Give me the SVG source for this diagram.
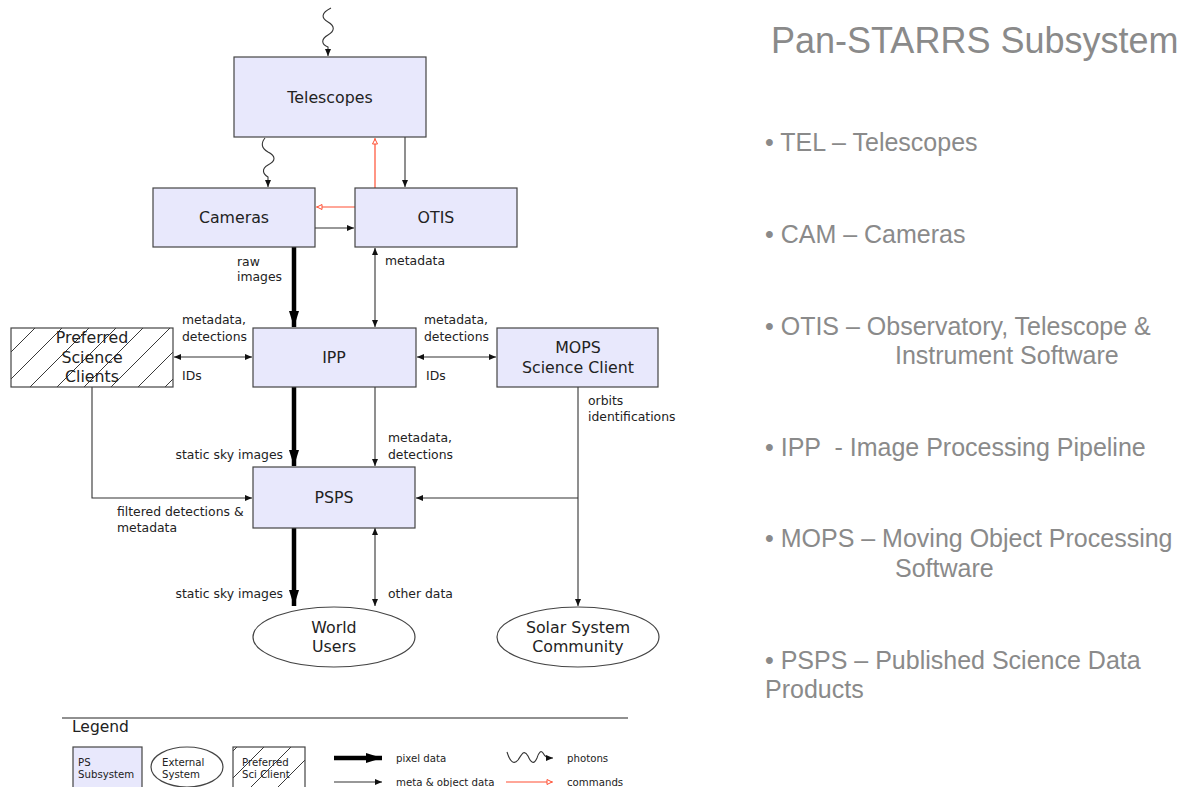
<svg xmlns="http://www.w3.org/2000/svg" width="1183" height="787" viewBox="0 0 1183 787">
<style>
.node{fill:#e8e8fc;stroke:#444;stroke-width:1.2}
.ext{fill:#fff;stroke:#444;stroke-width:1.2}
.hatch{fill:url(#hatch);stroke:#444;stroke-width:1.2}
.nl{font-family:"DejaVu Sans",sans-serif;font-size:15.8px;fill:#222;text-anchor:middle}
.lb{font-family:"DejaVu Sans",sans-serif;font-size:12.4px;fill:#222}
.lg{font-family:"DejaVu Sans",sans-serif;font-size:10.2px;fill:#222}
.thin{fill:none;stroke:#333;stroke-width:1.1}
.thick{fill:none;stroke:#000;stroke-width:4.5}
.red{fill:none;stroke:#ff4f33;stroke-width:1.2}
.rt{font-family:"Liberation Sans",Arial,sans-serif;fill:#8a8a8a}
</style>
<defs>
<pattern id="hatch" patternUnits="userSpaceOnUse" x="12" y="0" width="27" height="27">
<path d="M-2,2 L2,-2 M0,27 L27,0 M25,29 L29,25" stroke="#222" stroke-width="0.9"/>
</pattern>
<marker id="a" markerUnits="userSpaceOnUse" markerWidth="8" markerHeight="7" refX="7" refY="3.5" orient="auto-start-reverse">
<path d="M0,0.5 L7,3.5 L0,6.5 z" fill="#111"/>
</marker>
<marker id="at" markerUnits="userSpaceOnUse" markerWidth="17" markerHeight="11" refX="16" refY="5.5" orient="auto">
<path d="M0,0.5 L16,5.5 L0,10.5 z" fill="#000"/>
</marker>
<marker id="ar" markerUnits="userSpaceOnUse" markerWidth="8" markerHeight="7" refX="7" refY="3.5" orient="auto">
<path d="M1,1 L6,3.5 L1,6 z" fill="#fff" stroke="#ff4f33" stroke-width="1"/>
</marker>
</defs>

<g id="connectors">
<path class="thin" d="M331,8 C321,13 321,18 328,22 C335,26 335,31 328,35 C321,39 321,44 328,47 L328,56" marker-end="url(#a)"/>
<path class="thin" d="M265,138 C261,143 261,148 268,152 C276,156 276,161 268,165 C261,169 263,174 268,177 L268,187" marker-end="url(#a)"/>
<path class="thin" d="M405,137 L405,187" marker-end="url(#a)"/>
<path class="red" d="M375,188 L375,138" marker-end="url(#ar)"/>
<path class="red" d="M355,207 L316,207" marker-end="url(#ar)"/>
<path class="thin" d="M315,228 L354,228" marker-end="url(#a)"/>
<path class="thick" d="M294,247 L294,327" marker-end="url(#at)"/>
<path class="thin" d="M375,248 L375,327" marker-start="url(#a)" marker-end="url(#a)"/>
<path class="thin" d="M174,357 L252,357" marker-start="url(#a)" marker-end="url(#a)"/>
<path class="thin" d="M417,357 L496,357" marker-start="url(#a)" marker-end="url(#a)"/>
<path class="thick" d="M294,387 L294,466" marker-end="url(#at)"/>
<path class="thin" d="M375,387 L375,466" marker-end="url(#a)"/>
<path class="thin" d="M92,387 L92,498 L252,498" marker-end="url(#a)"/>
<path class="thin" d="M578,387 L578,606" marker-end="url(#a)"/>
<path class="thin" d="M578,498 L416,498" marker-end="url(#a)"/>
<path class="thick" d="M294,527 L294,606" marker-end="url(#at)"/>
<path class="thin" d="M375,528 L375,606" marker-start="url(#a)" marker-end="url(#a)"/>
</g>

<g id="connector-labels">
<text class="lb" x="237" y="266">raw</text>
<text class="lb" x="237" y="281">images</text>
<text class="lb" x="385" y="265">metadata</text>
<text class="lb" x="182" y="324">metadata,</text>
<text class="lb" x="182" y="341">detections</text>
<text class="lb" x="182" y="380">IDs</text>
<text class="lb" x="424" y="324">metadata,</text>
<text class="lb" x="424" y="341">detections</text>
<text class="lb" x="426" y="380">IDs</text>
<text class="lb" x="588" y="405">orbits</text>
<text class="lb" x="588" y="421">identifications</text>
<text class="lb" x="388" y="442">metadata,</text>
<text class="lb" x="388" y="459">detections</text>
<text class="lb" x="283" y="459" text-anchor="end">static sky images</text>
<text class="lb" x="117" y="516">filtered detections &amp;</text>
<text class="lb" x="117" y="532">metadata</text>
<text class="lb" x="283" y="598" text-anchor="end">static sky images</text>
<text class="lb" x="388" y="598">other data</text>
</g>

<g id="telescopes">
<rect class="node" x="234" y="57" width="192" height="80"/>
<text class="nl" x="330" y="103">Telescopes</text>
</g>
<g id="cameras">
<rect class="node" x="153" y="188" width="162" height="59"/>
<text class="nl" x="234" y="223">Cameras</text>
</g>
<g id="otis">
<rect class="node" x="355" y="188" width="162" height="59"/>
<text class="nl" x="436" y="223">OTIS</text>
</g>
<g id="psc">
<rect class="hatch" x="11" y="328" width="162" height="59"/>
<text class="nl" x="92" y="343">Preferred</text>
<text class="nl" x="92" y="363">Science</text>
<text class="nl" x="92" y="382">Clients</text>
</g>
<g id="ipp">
<rect class="node" x="253" y="328" width="163" height="59"/>
<text class="nl" x="334" y="363">IPP</text>
</g>
<g id="mops">
<rect class="node" x="497" y="328" width="161" height="59"/>
<text class="nl" x="578" y="353">MOPS</text>
<text class="nl" x="578" y="373">Science Client</text>
</g>
<g id="psps">
<rect class="node" x="253" y="467" width="162" height="61"/>
<text class="nl" x="334" y="503">PSPS</text>
</g>
<g id="world-users">
<ellipse class="ext" cx="334" cy="637" rx="81" ry="30"/>
<text class="nl" x="334" y="633">World</text>
<text class="nl" x="334" y="652">Users</text>
</g>
<g id="solar-system">
<ellipse class="ext" cx="578" cy="637" rx="81" ry="30"/>
<text class="nl" x="578" y="633">Solar System</text>
<text class="nl" x="578" y="652">Community</text>
</g>

<g id="legend">
<line x1="62" y1="718" x2="628" y2="718" stroke="#222" stroke-width="1.2"/>
<text x="72" y="732" font-family="DejaVu Sans, sans-serif" font-size="15.5" fill="#222">Legend</text>
<rect class="node" x="73" y="747" width="69" height="42"/>
<text class="lg" x="78" y="766">PS</text>
<text class="lg" x="78" y="778">Subsystem</text>
<ellipse class="ext" cx="187" cy="767" rx="36" ry="20"/>
<text class="lg" x="162" y="766">External</text>
<text class="lg" x="162" y="778">System</text>
<rect class="hatch" x="233" y="747" width="72" height="42"/>
<text class="lg" x="242" y="766">Preferred</text>
<text class="lg" x="242" y="778">Sci Client</text>
<path class="thick" d="M334,758 L382,758" marker-end="url(#at)"/>
<text class="lg" x="396" y="762">pixel data</text>
<path class="thin" d="M334,782 L382,782" marker-end="url(#a)"/>
<text class="lg" x="396" y="786">meta &amp; object data</text>
<path class="thin" d="M507,752 C510,762 514,765 518,760 C522,754 524,749 528,756 C531,763 534,765 537,758 C539,752 541,750 543,753 C545,757 547,758 551,758 L553,758" marker-end="url(#a)"/>
<text class="lg" x="567" y="762">photons</text>
<path class="red" d="M506,782 L553,782" marker-end="url(#ar)"/>
<text class="lg" x="567" y="786">commands</text>
</g>

<g id="summary">
<text class="rt" x="771" y="53" font-size="36">Pan-STARRS Subsystem</text>
<text class="rt" x="765" y="151" font-size="25">• TEL – Telescopes</text>
<text class="rt" x="765" y="243" font-size="25">• CAM – Cameras</text>
<text class="rt" x="765" y="335" font-size="25">• OTIS – Observatory, Telescope &amp;</text>
<text class="rt" x="895" y="364" font-size="25">Instrument Software</text>
<text class="rt" x="765" y="456" font-size="25" style="white-space:pre">• IPP  - Image Processing Pipeline</text>
<text class="rt" x="765" y="547" font-size="25">• MOPS – Moving Object Processing</text>
<text class="rt" x="895" y="577" font-size="25">Software</text>
<text class="rt" x="765" y="669" font-size="25">• PSPS – Published Science Data</text>
<text class="rt" x="765" y="698" font-size="25">Products</text>
</g>
</svg>
